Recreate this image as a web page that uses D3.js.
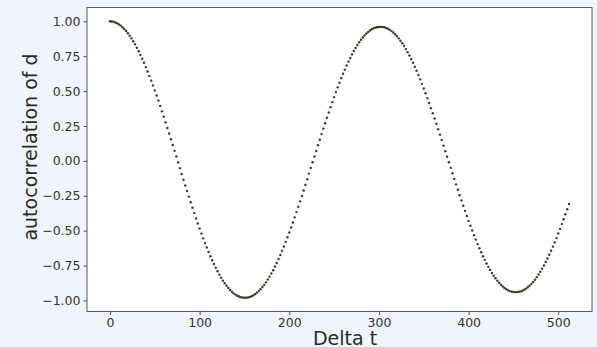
<!DOCTYPE html>
<html>
<head>
<meta charset="utf-8">
<script src="https://cdn.jsdelivr.net/npm/d3@7"></script>
<style>
  html, body { margin: 0; padding: 0; background: #f0f5fd; }
  svg { display: block; }
  .tick text { font-family: "DejaVu Sans", sans-serif; font-size: 12.5px; fill: #3a3226; }
  .label { font-family: "DejaVu Sans", sans-serif; font-size: 19px; fill: #2e2a22; }
</style>
</head>
<body>
<div id="chart"></div>
<script>
// lag index (every 2nd lag) and autocorrelation values
var lagStep = 2;
var acf = [
  1.000, 0.999, 0.997, 0.992, 0.986, 0.978, 0.969, 0.958, 0.945, 0.931,
  0.914, 0.897, 0.878, 0.857, 0.835, 0.811, 0.786, 0.759, 0.732, 0.703,
  0.672, 0.641, 0.609, 0.575, 0.541, 0.505, 0.469, 0.432, 0.394, 0.355,
  0.316, 0.276, 0.236, 0.196, 0.155, 0.114, 0.072, 0.031, -0.011, -0.052,
  -0.094, -0.135, -0.176, -0.216, -0.256, -0.296, -0.335, -0.374, -0.412, -0.449,
  -0.485, -0.521, -0.555, -0.589, -0.621, -0.652, -0.683, -0.712, -0.739, -0.766,
  -0.791, -0.815, -0.837, -0.858, -0.877, -0.894, -0.911, -0.925, -0.938, -0.949,
  -0.958, -0.966, -0.972, -0.977, -0.979, -0.980,
  -0.980, -0.978, -0.975, -0.970, -0.963, -0.954, -0.944, -0.933, -0.919, -0.904,
  -0.888, -0.870, -0.850, -0.829, -0.807, -0.783, -0.757, -0.731, -0.703, -0.674,
  -0.644, -0.613, -0.580, -0.547, -0.513, -0.477, -0.441, -0.405, -0.367, -0.329,
  -0.290, -0.251, -0.212, -0.172, -0.132, -0.091, -0.051, -0.010, 0.031, 0.071,
  0.112, 0.152, 0.192, 0.231, 0.270, 0.309, 0.347, 0.385, 0.421, 0.457,
  0.493, 0.527, 0.560, 0.593, 0.624, 0.654, 0.683, 0.711, 0.737, 0.763,
  0.787, 0.809, 0.830, 0.850, 0.868, 0.884, 0.899, 0.913, 0.924, 0.934,
  0.943, 0.950, 0.955, 0.958, 0.960,
  0.960, 0.959, 0.957, 0.953, 0.947, 0.939, 0.930, 0.920, 0.907, 0.893,
  0.878, 0.861, 0.843, 0.823, 0.801, 0.779, 0.755, 0.729, 0.703, 0.675,
  0.646, 0.616, 0.584, 0.552, 0.519, 0.485, 0.450, 0.415, 0.378, 0.341,
  0.304, 0.266, 0.227, 0.188, 0.149, 0.109, 0.070, 0.030, -0.010, -0.050,
  -0.089, -0.129, -0.168, -0.207, -0.246, -0.284, -0.321, -0.358, -0.395, -0.430,
  -0.465, -0.499, -0.532, -0.564, -0.596, -0.626, -0.655, -0.683, -0.709, -0.735,
  -0.759, -0.781, -0.803, -0.823, -0.841, -0.858, -0.873, -0.887, -0.900, -0.910,
  -0.919, -0.927, -0.933, -0.937, -0.939, -0.940,
  -0.940, -0.938, -0.935, -0.930, -0.923, -0.915, -0.905, -0.894, -0.881, -0.867,
  -0.851, -0.833, -0.814, -0.794, -0.772, -0.749, -0.724, -0.699, -0.672, -0.644,
  -0.614, -0.584, -0.553, -0.520, -0.487, -0.453, -0.418, -0.382, -0.346, -0.309
];
var xTicks = [0, 100, 200, 300, 400, 500];
var yTicks = [-1.00, -0.75, -0.50, -0.25, 0.00, 0.25, 0.50, 0.75, 1.00];

var W = 597, H = 347;
var plot = {left: 87, right: 592, top: 7.5, bottom: 311.5};

var svg = d3.select("#chart").append("svg").attr("width", W).attr("height", H);

var x = d3.scaleLinear().domain([-25.6, 537.6]).range([plot.left, plot.right]);
var y = d3.scaleLinear().domain([-1.079, 1.099]).range([plot.bottom, plot.top]);

svg.append("rect")
    .attr("x", plot.left).attr("y", plot.top)
    .attr("width", plot.right - plot.left).attr("height", plot.bottom - plot.top)
    .attr("fill", "#ffffff");

var pts = acf.map((v, i) => ({lag: i * lagStep, value: v}));

svg.append("g").selectAll("circle")
    .data(pts)
    .enter().append("circle")
    .attr("cx", d => x(d.lag))
    .attr("cy", d => y(d.value))
    .attr("r", 1.2)
    .attr("fill", "#3f3624");

// axes
var xAxis = svg.append("g")
    .attr("transform", `translate(0,${plot.bottom})`)
    .call(d3.axisBottom(x).tickValues(xTicks).tickSize(3.5).tickPadding(3).tickFormat(d3.format("d")));
var yAxis = svg.append("g")
    .attr("transform", `translate(${plot.left},0)`)
    .call(d3.axisLeft(y).tickValues(yTicks).tickSize(3.5).tickPadding(3).tickFormat(d => d3.format(".2f")(d).replace("-", "\u2212")));
[xAxis, yAxis].forEach(a => {
    a.select(".domain").remove();
    a.selectAll(".tick line").attr("stroke", "#555");
});

// frame
svg.append("rect")
    .attr("x", plot.left).attr("y", plot.top)
    .attr("width", plot.right - plot.left).attr("height", plot.bottom - plot.top)
    .attr("fill", "none").attr("stroke", "#5a5a5a").attr("stroke-width", 1);

// labels
svg.append("text").attr("class", "label")
    .attr("x", 345).attr("y", 344.5)
    .attr("text-anchor", "middle")
    .text("Delta t");

svg.append("text").attr("class", "label")
    .attr("transform", "translate(37,147) rotate(-90)")
    .attr("text-anchor", "middle")
    .text("autocorrelation of d");
</script>
</body>
</html>
